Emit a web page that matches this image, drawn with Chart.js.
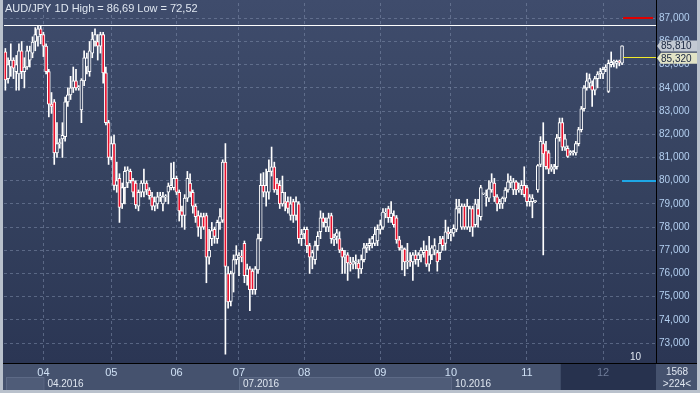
<!DOCTYPE html>
<html>
<head>
<meta charset="utf-8">
<script src="https://cdn.jsdelivr.net/npm/chart.js@4.4.1/dist/chart.umd.min.js"></script>
<style>
  html, body { margin: 0; padding: 0; background: #2f3b58; }
  canvas { display: block; }
</style>
</head>
<body>
<canvas id="myChart" width="700" height="393"></canvas>
<script>
// AUD/JPY daily candles
const opens = [
  85.55, 84.4, 84.9, 85.2, 84.7, 84.6, 85.6, 84.7, 84.9, 85.2, 85.5, 86.0, 86.2, 86.55, 86.3, 85.8, 84.7, 83.3, 83.4, 81.2,
  81.6, 81.8, 81.9, 83.4, 83.7, 84.0, 84.3, 84.0, 83.05, 84.3, 84.9, 84.7, 85.5, 86.0, 86.0, 85.8, 86.3, 84.65, 82.5, 81.0,
  81.6, 79.8, 80.1, 79.0, 79.7, 79.9, 80.4, 80.0, 79.9, 78.9, 79.5, 79.5, 79.9, 79.6, 79.3, 78.9, 79.0, 79.3, 79.0, 79.3,
  79.5, 79.7, 79.7, 80.1, 79.5, 78.7, 78.5, 79.25, 79.9, 79.5, 78.9, 78.5, 78.0, 78.45, 78.5, 76.7, 77.5, 77.9, 77.5, 78.2,
  78.3, 80.8, 76.0, 74.8, 76.0, 76.6, 76.7, 76.75, 77.3, 75.9, 76.2, 76.1, 75.3, 76.15, 77.5, 79.8, 79.5, 79.5, 80.4, 80.6,
  79.9, 79.8, 79.0, 79.1, 79.1, 78.5, 79.1, 78.5, 79.0, 77.5, 77.7, 77.9, 77.2, 76.7, 76.6, 77.2, 77.8, 78.4, 78.0, 78.0,
  78.5, 77.45, 77.6, 77.5, 77.0, 76.7, 76.8, 76.45, 76.4, 76.5, 76.45, 76.2, 76.6, 77.1, 77.2, 77.3, 77.3, 77.4, 77.9, 78.0,
  78.6, 78.8, 78.4, 78.5, 78.4, 77.45, 77.0, 77.05, 76.5, 76.55, 76.5, 76.8, 76.6, 76.8, 76.9, 77.0, 76.4, 76.8, 77.0, 76.9,
  76.9, 77.5, 77.3, 77.8, 77.7, 77.75, 77.9, 78.8, 78.0, 78.9, 78.0, 78.0, 78.8, 78.1, 78.8, 78.45, 79.43, 79.3, 79.25, 79.6,
  79.9, 79.3, 79.0, 79.0, 79.25, 79.6, 79.9, 79.6, 79.95, 79.6, 79.6, 79.8, 79.7, 79.1, 79.1, 79.1, 79.6, 80.7, 81.6, 81.3,
  81.2, 80.5, 80.5, 80.6, 81.85, 82.5, 81.45, 81.4, 81.2, 81.2, 81.2, 81.6, 82.2, 83.1, 84.0, 84.2, 84.1, 83.9, 84.4, 84.6,
  84.6, 84.8, 83.85, 85.0, 85.1, 85.05, 85.15, 85.07
]
const highs = [
  85.7, 85.3, 85.9, 85.3, 85.4, 85.9, 86.0, 85.3, 85.8, 85.8, 86.2, 86.6, 86.69, 86.69, 86.4, 85.9, 84.8, 83.8, 83.5, 82.5,
  81.8, 82.5, 83.6, 84.0, 84.5, 84.9, 84.8, 84.1, 84.4, 85.6, 85.5, 86.0, 86.4, 86.55, 86.3, 86.4, 86.4, 84.9, 82.6, 81.9,
  81.97, 80.8, 80.3, 79.9, 80.6, 80.6, 80.5, 80.1, 80.0, 79.6, 80.0, 80.5, 80.0, 79.7, 79.5, 79.3, 79.5, 79.5, 79.5, 79.4,
  79.9, 80.76, 80.8, 80.2, 79.6, 78.9, 79.4, 80.4, 80.3, 79.6, 79.0, 78.7, 78.6, 78.6, 78.6, 77.9, 78.2, 78.0, 78.3, 78.8,
  80.9, 81.6, 76.3, 76.1, 76.8, 77.2, 76.9, 77.0, 77.4, 76.4, 76.3, 76.2, 76.3, 77.7, 80.3, 80.35, 80.5, 80.9, 81.45, 80.8,
  80.1, 80.0, 80.2, 79.5, 79.3, 79.3, 79.2, 79.3, 79.1, 77.9, 78.0, 78.0, 77.3, 77.0, 77.4, 77.8, 78.7, 78.6, 78.4, 78.6,
  78.6, 77.7, 77.9, 77.8, 77.1, 77.0, 76.9, 76.7, 76.7, 76.8, 76.6, 76.8, 77.3, 77.3, 77.5, 77.6, 78.0, 78.1, 78.3, 78.8,
  78.8, 78.9, 79.1, 78.7, 78.5, 77.6, 77.2, 77.1, 77.3, 76.9, 76.9, 77.0, 76.9, 77.1, 77.4, 77.2, 77.6, 77.2, 77.5, 77.0,
  77.6, 77.6, 78.3, 78.0, 77.9, 78.1, 79.2, 79.2, 79.0, 79.0, 79.2, 78.9, 78.9, 79.2, 79.2, 79.8, 79.45, 79.6, 80.0, 80.3,
  80.1, 79.4, 79.2, 79.3, 79.7, 80.3, 80.2, 80.1, 80.0, 79.9, 80.0, 80.6, 79.8, 79.4, 79.4, 79.15, 80.7, 81.9, 82.5, 81.7,
  81.3, 80.7, 80.7, 82.0, 82.7, 82.7, 82.0, 81.5, 81.3, 81.3, 81.7, 82.3, 83.2, 84.1, 84.64, 84.6, 84.3, 84.5, 84.7, 84.85,
  84.9, 85.0, 85.2, 85.55, 85.2, 85.2, 85.2, 85.81
]
const lows = [
  83.9, 84.2, 84.5, 84.4, 83.9, 83.9, 84.4, 84.0, 84.8, 84.9, 85.3, 85.6, 85.8, 85.9, 85.35, 84.6, 82.75, 82.9, 80.7, 81.0,
  81.4, 81.0, 81.7, 83.2, 83.5, 83.8, 83.9, 83.9, 82.5, 84.1, 84.6, 84.5, 85.3, 85.8, 85.2, 85.5, 84.2, 82.4, 80.7, 80.9,
  79.6, 79.5, 78.2, 78.8, 79.0, 79.7, 79.9, 79.3, 78.8, 78.7, 79.3, 79.3, 79.4, 79.2, 78.74, 78.7, 78.8, 79.1, 78.7, 79.1,
  79.0, 79.6, 79.6, 79.4, 78.26, 78.0, 77.9, 79.1, 79.3, 78.6, 78.2, 77.6, 77.5, 77.9, 75.6, 76.4, 77.2, 77.3, 77.3, 77.9,
  78.2, 72.52, 74.5, 74.6, 75.2, 76.4, 75.9, 76.5, 75.6, 75.5, 74.4, 75.1, 75.1, 76.0, 77.4, 79.3, 78.9, 79.2, 80.2, 79.5,
  79.4, 78.8, 78.9, 78.7, 78.6, 78.3, 78.2, 78.3, 77.3, 77.2, 77.5, 76.9, 76.0, 76.2, 76.4, 77.0, 77.5, 78.0, 77.8, 77.8,
  77.3, 77.2, 77.3, 76.9, 76.0, 76.0, 75.7, 76.1, 76.2, 76.2, 75.8, 76.0, 76.5, 76.9, 77.0, 77.1, 77.2, 77.2, 77.7, 77.9,
  78.4, 78.2, 78.2, 78.0, 77.3, 77.0, 76.15, 75.9, 76.2, 76.3, 75.7, 76.4, 76.3, 76.5, 76.7, 76.3, 76.1, 76.6, 76.8, 76.1,
  76.6, 77.0, 77.0, 77.5, 77.4, 77.6, 77.8, 78.6, 77.9, 77.9, 77.9, 77.8, 77.6, 78.0, 78.0, 78.3, 79.4, 78.9, 79.1, 79.5,
  79.1, 78.7, 78.8, 78.8, 79.1, 79.5, 79.7, 79.4, 79.4, 79.5, 79.4, 79.3, 78.9, 78.9, 78.4, 79.05, 79.5, 80.6, 76.8, 80.5,
  80.3, 80.4, 80.3, 80.5, 81.7, 81.3, 81.3, 81.0, 81.1, 81.1, 81.1, 81.5, 82.1, 83.0, 83.9, 84.0, 83.2, 83.7, 84.0, 84.4,
  84.4, 84.7, 83.8, 84.9, 84.9, 84.85, 84.95, 85.0
]
const closes = [
  84.34, 85.0, 85.2, 84.85, 85.0, 85.6, 84.7, 84.9, 85.6, 85.6, 85.98, 86.3, 86.55, 86.3, 85.8, 84.7, 83.3, 83.2, 81.2, 81.6,
  81.62, 81.95, 83.4, 83.7, 84.0, 84.3, 84.0, 84.02, 84.34, 85.3, 85.3, 85.6, 86.1, 86.3, 85.8, 86.3, 84.65, 82.5, 81.0, 81.6,
  79.8, 80.0, 78.85, 79.7, 80.4, 80.46, 80.0, 79.5, 78.95, 79.5, 79.9, 79.9, 79.6, 79.35, 78.9, 79.1, 79.3, 79.35, 79.3, 79.32,
  79.77, 79.8, 80.1, 79.5, 78.7, 78.5, 79.25, 80.1, 79.5, 78.9, 78.45, 78.0, 78.45, 78.0, 76.7, 77.0, 77.85, 77.6, 78.2, 78.45,
  80.8, 76.3, 74.77, 76.0, 76.6, 76.8, 76.75, 76.7, 75.9, 76.2, 75.3, 75.3, 76.2, 77.5, 79.8, 79.5, 79.8, 80.4, 80.6, 79.6,
  79.6, 79.0, 79.5, 79.05, 78.8, 79.0, 78.5, 79.1, 77.5, 77.7, 77.9, 77.2, 76.7, 76.9, 77.2, 77.6, 78.4, 78.2, 78.2, 78.4,
  77.5, 77.55, 77.75, 77.0, 76.7, 76.8, 76.45, 76.4, 76.5, 76.55, 76.2, 76.6, 77.1, 77.2, 77.3, 77.5, 77.7, 77.9, 78.1, 78.65,
  78.65, 78.4, 78.6, 78.1, 77.45, 77.1, 77.1, 76.5, 76.55, 76.5, 76.8, 76.6, 76.8, 77.0, 77.0, 76.4, 76.8, 77.1, 77.2, 76.5,
  77.3, 77.2, 77.8, 77.7, 77.75, 77.95, 78.8, 78.9, 78.9, 78.0, 78.9, 78.8, 78.0, 79.0, 78.5, 79.7, 79.43, 79.35, 79.65, 79.95,
  79.3, 79.0, 79.1, 79.25, 79.6, 79.95, 80.0, 79.95, 79.6, 79.62, 79.8, 79.4, 79.1, 79.3, 79.25, 79.1, 80.65, 81.7, 81.15, 80.6,
  80.5, 80.6, 80.6, 81.85, 82.5, 81.45, 81.8, 81.05, 81.25, 81.25, 81.6, 82.2, 83.1, 84.0, 84.3, 84.4, 83.9, 84.4, 84.6, 84.7,
  84.8, 84.9, 85.06, 85.1, 85.15, 85.15, 85.1, 85.81
]

const slotCount = 240           // bar slots across the plot (empty ones on the right)
const monthTicks = [14, 39, 63, 86, 110, 138, 164, 192, 220]
const monthLabels = ['04', '05', '06', '07', '08', '09', '10', '11', '12']
const quarterTicks = [14, 86, 164]
const quarterLabels = ['04.2016', '07.2016', '10.2016']
const yTicks = [73, 74, 75, 76, 77, 78, 79, 80, 81, 82, 83, 84, 85, 86, 87]
const highValue = 86.69
const lowValue = 72.52
const lastHigh = 85.81
const lastPrice = 85.32
const redLevel = 87
const blueLevel = 80
const shadeFrom = 205

const labels = Array.from({ length: slotCount }, (_, i) => i)
const fmt = v => v.toFixed(3).replace('.', ',')
const FONT = "'Liberation Sans', Arial, sans-serif"

const canvas = document.getElementById('myChart')
const context = canvas.getContext('2d')

const bg = context.createLinearGradient(0, 0, 0, 363)
bg.addColorStop(0, '#3f4c6c')
bg.addColorStop(0.5, '#35425f')
bg.addColorStop(1, '#2b3654')

const bodyColors = opens.map((o, i) => closes[i] < opens[i] ? '#e8102c' : bg)

const panel = {
  id: 'panel',
  beforeDraw(chart) {
    const c = chart.ctx
    const x = chart.scales.x
    c.save()
    c.fillStyle = bg
    c.fillRect(0, 0, 700, 363)
    c.fillStyle = '#45526e'
    c.fillRect(0, 363, 700, 30)
    // quarter row
    const q0 = x.getPixelForValue(quarterTicks[0])
    const q1 = x.getPixelForValue(quarterTicks[1])
    const q2 = x.getPixelForValue(quarterTicks[2])
    c.fillStyle = '#4f5c78'
    c.fillRect(6, 377, q0 - 6, 13)
    c.fillRect(q1, 377, q2 - q1, 13)
    c.strokeStyle = '#5d6a86'
    c.lineWidth = 1
    c.strokeRect(6.5, 377.5, q0 - 6, 13)
    c.strokeRect(q1 + 0.5, 377.5, q2 - q1, 13)
    // darker part on the right of the time axis
    const s = x.getPixelForValue(shadeFrom) - 1.5
    c.fillStyle = '#27324e'
    c.fillRect(s, 364, 656 - s, 26)
    c.restore()
  },
  afterDraw(chart) {
    const c = chart.ctx
    const x = chart.scales.x
    const y = chart.scales.y
    const area = chart.chartArea
    const lastX = x.getPixelForValue(opens.length - 1)
    c.save()
    // high line
    const hy = Math.round(y.getPixelForValue(highValue)) + 0.5
    c.strokeStyle = '#ffffff'
    c.lineWidth = 1
    c.beginPath(); c.moveTo(area.left, hy); c.lineTo(area.right, hy); c.stroke()
    // level marks
    c.lineWidth = 2
    c.strokeStyle = '#e00000'
    const ry = Math.round(y.getPixelForValue(redLevel))
    c.beginPath(); c.moveTo(lastX + 1, ry); c.lineTo(area.right - 3, ry); c.stroke()
    c.strokeStyle = '#1ea7e6'
    const by = Math.round(y.getPixelForValue(blueLevel))
    c.beginPath(); c.moveTo(lastX, by); c.lineTo(area.right, by); c.stroke()
    c.lineWidth = 1
    c.strokeStyle = '#f2ea2a'
    const py = Math.round(y.getPixelForValue(lastPrice)) + 0.5
    c.beginPath(); c.moveTo(lastX + 1, py); c.lineTo(area.right, py); c.stroke()
    // frame lines
    c.strokeStyle = '#000000'
    c.beginPath(); c.moveTo(656.5, 0); c.lineTo(656.5, 363); c.stroke()
    c.beginPath(); c.moveTo(0, 363.5); c.lineTo(700, 363.5); c.stroke()
    // title
    c.font = '11px ' + FONT
    c.fillStyle = '#dfe6f0'
    c.textBaseline = 'middle'
    c.textAlign = 'left'
    c.fillText('AUD/JPY 1D High = ' + highValue.toFixed(2).replace('.', ',') + ' Low = ' + lowValue.toFixed(2).replace('.', ','), 5, 9)
    // price tags
    const tag = (val, fill, ty) => {
      c.fillStyle = fill
      c.beginPath()
      c.moveTo(657, ty)
      c.lineTo(661, ty - 5.5)
      c.lineTo(697, ty - 5.5)
      c.lineTo(697, ty + 5.5)
      c.lineTo(661, ty + 5.5)
      c.closePath()
      c.fill()
      c.fillStyle = '#1a2640'
      c.font = '10px ' + FONT
      c.fillText(fmt(val), 661, ty + 0.5)
    }
    tag(lastHigh, '#c3c9d3', y.getPixelForValue(lastHigh))
    tag(lastPrice, '#e2e3c6', y.getPixelForValue(lastPrice) + 1)
    // quarter labels
    c.font = '10px ' + FONT
    c.fillStyle = '#dfe6f0'
    quarterTicks.forEach((t, i) => c.fillText(quarterLabels[i], x.getPixelForValue(t) + 4, 384))
    // small texts
    c.fillText('10', 630, 357)
    c.textAlign = 'center'
    c.fillText('1568', 677, 372)
    c.fillText('>224<', 677, 384)
    // outer border
    c.fillStyle = '#b9c1cc'
    c.fillRect(0, 0, 3, 393)
    c.fillRect(697, 0, 3, 393)
    c.fillRect(0, 390, 700, 3)
    c.restore()
  }
}

const myChart = new Chart(context, {
  type: 'bar',
  data: {
    labels: labels,
    datasets: [
      {
        data: lows.map((l, i) => [l, highs[i]]),
        backgroundColor: '#ffffff',
        barThickness: 1,
        grouped: false,
        order: 2
      },
      {
        data: opens.map((o, i) => [o, closes[i]]),
        backgroundColor: bodyColors,
        borderColor: '#ffffff',
        borderWidth: 1,
        borderSkipped: false,
        barThickness: 3,
        minBarLength: 1,
        grouped: false,
        order: 1
      }
    ]
  },
  options: {
    responsive: false,
    devicePixelRatio: 1,
    animation: false,
    layout: { padding: { left: 4, top: 3, right: 0, bottom: 0 } },
    plugins: { legend: { display: false }, tooltip: { enabled: false } },
    scales: {
      x: {
        type: 'category',
        offset: true,
        afterBuildTicks: s => { s.ticks = monthTicks.map(v => ({ value: v })) },
        afterFit: s => { s.height = 30; s.paddingLeft = 0; s.paddingRight = 0 },
        grid: { color: 'rgba(125,140,170,0.55)', offset: false, drawTicks: false },
        border: { display: false, dash: [3, 3] },
        ticks: {
          autoSkip: false,
          maxRotation: 0,
          padding: 3,
          font: { family: FONT, size: 11 },
          color: ctx => monthTicks[ctx.index] === 220 ? '#6f7c99' : '#cfe0f4',
          callback: (v, i) => monthLabels[monthTicks.indexOf(v)] || ''
        }
      },
      y: {
        position: 'right',
        min: 72.14,
        max: 87.66,
        afterBuildTicks: s => { s.ticks = yTicks.map(v => ({ value: v })) },
        afterFit: s => { s.width = 44; s.paddingTop = 0; s.paddingBottom = 0 },
        grid: { color: 'rgba(125,140,170,0.55)', drawTicks: false },
        border: { display: false, dash: [3, 3] },
        ticks: {
          padding: 3,
          crossAlign: 'near',
          font: { family: FONT, size: 10 },
          color: '#b3cff0',
          callback: v => fmt(v)
        }
      }
    }
  },
  plugins: [panel]
})
</script>
</body>
</html>
